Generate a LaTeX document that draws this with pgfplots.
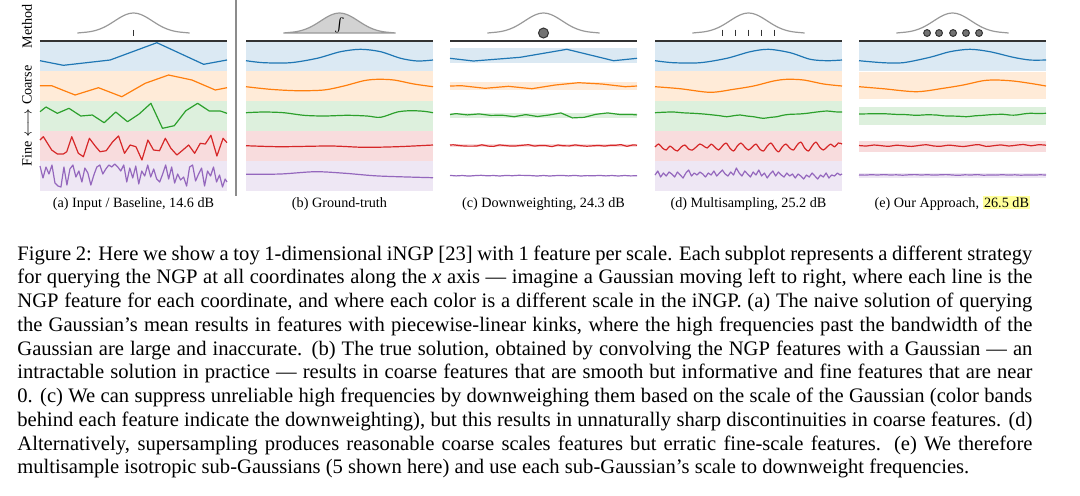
\documentclass[border=0pt]{standalone}
\usepackage{exscale}
\usepackage{fontspec}
\setmainfont{Liberation Serif}
\usepackage{pgfplots}
\pgfplotsset{compat=1.18}
\usepackage{pgfplotstable}

\definecolor{tabblue}{HTML}{1F77B4}
\definecolor{taborange}{HTML}{FF7F0E}
\definecolor{tabgreen}{HTML}{2CA02C}
\definecolor{tabred}{HTML}{D62728}
\definecolor{tabpurple}{HTML}{9467BD}
\definecolor{hl}{HTML}{FFFF99}

% gaussian sketched above each panel (base at 158, peak 178)
\pgfplotstableread{
x y
20 158
22.5 158.46
25 158.88
27.5 159.59
30 160.71
32.5 162.33
35 164.49
37.5 167.16
40 170.13
42.5 173.1
45 175.65
47.5 177.38
50 178
52.5 177.38
55 175.65
57.5 173.1
60 170.13
62.5 167.16
65 164.49
67.5 162.33
70 160.71
72.5 159.59
75 158.88
77.5 158.46
80 158
}\gausstab

\pgfplotsset{
  panel/.style={scale only axis, width=93.5pt, height=93pt,
    xmin=0, xmax=100, ymin=0, ymax=186, hide axis, clip=false,
    anchor=south west},
  feat/.style={line width=0.6pt, line join=round},
  gauss/.style={draw=black!40, line width=0.6pt},
  topline/.style={draw=black!80, line width=1pt},
}
\newcommand\subfont{\fontsize{7.1}{8.5}\selectfont}
\newcommand\capfont{\fontsize{10.3}{12}\selectfont}
\setlength{\fboxsep}{0.7pt}

\begin{document}
\begin{tikzpicture}
\path[use as bounding box] (0,0) rectangle (540pt,-247.5pt);

% left labels
\node[rotate=90, font=\subfont, inner sep=0pt] at (13.5pt,-13pt) {Method};
\node[rotate=90, font=\subfont, inner sep=0pt] at (13.5pt,-58pt) {Fine $\longleftrightarrow$ Coarse};
\draw[black!45, line width=0.8pt] (118pt,0pt) -- (118pt,-98pt);

% (a) input / baseline
\begin{axis}[panel, at={(20pt,-95.5pt)}]
\addplot[draw=none, fill=tabblue!16] coordinates {(0,120) (100,120) (100,150) (0,150)} -- cycle;
\addplot[draw=none, fill=taborange!16] coordinates {(0,90) (100,90) (100,120) (0,120)} -- cycle;
\addplot[draw=none, fill=tabgreen!16] coordinates {(0,60) (100,60) (100,90) (0,90)} -- cycle;
\addplot[draw=none, fill=tabred!16] coordinates {(0,30) (100,30) (100,60) (0,60)} -- cycle;
\addplot[draw=none, fill=tabpurple!16] coordinates {(0,0) (100,0) (100,30) (0,30)} -- cycle;
\addplot[topline] coordinates {(0,150) (100,150)};
\addplot[gauss, smooth] table {\gausstab};
\addplot[only marks, mark=|, mark size=1.6pt, mark options={draw=black!80, line width=0.6pt}] coordinates {(50,158)};
\addplot[feat, tabblue] coordinates {(0,130.3) (12.5,125.7) (37.5,131) (62.5,148.3) (87.5,126.7) (100,131)};
\addplot[feat, taborange] coordinates {(0,105.3) (6.25,105.3) (18.75,96) (31.25,103.3) (43.75,94.3) (56.25,107.7) (68.75,116) (81.25,111) (93.75,101) (100,103.3)};
\addplot[feat, tabgreen] coordinates {(0,79.3) (3.2,84) (9.3,77.7) (15.5,82.7) (21.8,75) (28,76) (34.3,68.3) (40.5,79) (46.8,69.3) (53,77) (59.3,87.7) (65.5,62.7) (71.8,65.3) (78,80.3) (84.3,87.7) (90.5,80) (96.4,80) (100,77.7)};
\addplot[feat, tabred] coordinates {(0,51) (1.8,54.3) (6.25,41) (9.3,37) (12.5,37) (14.3,39.3) (17,54.3) (20.5,37.7) (23.2,34.3) (26.4,52.7) (29.5,45) (32.1,39.3) (35.4,40.3) (38.9,49.3) (42,55) (45.2,37.7) (48.2,46) (51.3,44.3) (54.5,31) (57.7,51) (60.7,41) (63.9,40.3) (67,52.7) (70,42.7) (73.2,36) (76.4,41) (79.5,46) (82.7,37.7) (85.7,47.7) (88.4,47) (91.4,55.7) (94.6,35) (97.9,52.7) (100,48.3)};
\addplot[feat, tabpurple] coordinates {(0,25) (1.6,13) (3.2,24) (4.8,17) (6.4,26) (8,8) (9.6,5) (11.2,4) (12.8,24) (14.4,6) (16,22) (17.6,26) (19.2,14) (20.8,20) (22.4,9) (24,23) (25.6,18) (27.2,6) (28.8,16) (30.4,24) (32,26) (33.6,17) (35.2,22) (36.8,26) (38.4,24) (40,27) (41.6,24) (43.2,20) (44.8,26) (46.4,9) (48,23) (49.6,13) (51.2,25) (52.8,7) (54.4,20) (56,15) (57.6,26) (59.2,14) (60.8,22) (62.4,12) (64,9) (65.6,17) (67.2,26) (68.8,12) (70.4,24) (72,8) (73.6,17) (75.2,11) (76.8,14) (78.4,5) (80,24) (81.6,26) (83.2,10) (84.8,17) (86.4,23) (88,5) (89.6,20) (91.2,15) (92.8,24) (94.4,9) (96,16) (97.6,4) (99,12) (100,9)};
\node[font=\subfont, anchor=base] at (axis cs:50,-16.5) {(a) Input / Baseline, 14.6 dB};
\end{axis}

% (b) ground truth
\begin{axis}[panel, at={(123pt,-95.5pt)}]
\addplot[draw=none, fill=tabblue!16] coordinates {(0,120) (100,120) (100,150) (0,150)} -- cycle;
\addplot[draw=none, fill=taborange!16] coordinates {(0,90) (100,90) (100,120) (0,120)} -- cycle;
\addplot[draw=none, fill=tabgreen!16] coordinates {(0,60) (100,60) (100,90) (0,90)} -- cycle;
\addplot[draw=none, fill=tabred!16] coordinates {(0,30) (100,30) (100,60) (0,60)} -- cycle;
\addplot[draw=none, fill=tabpurple!16] coordinates {(0,0) (100,0) (100,30) (0,30)} -- cycle;
\addplot[topline] coordinates {(0,150) (100,150)};
\addplot[gauss, smooth, fill=gray!35] table {\gausstab} -- cycle;
\node[font=\fontsize{6.5}{7}\selectfont, inner sep=0pt] at (axis cs:50,165.5) {$\int$};
\addplot[feat, tabblue, smooth] coordinates {(0,130.3) (9.5,128.3) (23.8,128.3) (38,132.7) (50.5,139.3) (61.3,141.7) (72,139.3) (82.7,132.7) (91.6,130) (100,131)};
\addplot[feat, taborange, smooth] coordinates {(0,104.3) (13,101.7) (27.3,100.3) (41.6,101) (52.3,105) (63,110.3) (70.2,111.7) (79.1,111) (89.8,107) (100,104.3)};
\addplot[feat, tabgreen, smooth] coordinates {(0,78.3) (9.5,79) (20.2,78.3) (30.9,75.7) (41.6,75) (54.1,75.7) (64.8,75) (72,73.7) (80.9,79) (88,80.3) (95.2,79.7) (100,78.3)};
\addplot[feat, tabred, smooth] coordinates {(0,45.3) (18.4,44.3) (45.2,45) (63,43.7) (80.9,44.3) (100,46)};
\addplot[feat, tabpurple, smooth] coordinates {(0,16.7) (18.4,17) (37.1,19.3) (53.2,17.7) (71,15) (100,13.3)};
\node[font=\subfont, anchor=base] at (axis cs:50,-16.5) {(b) Ground-truth};
\end{axis}

% (c) downweighting
\begin{axis}[panel, at={(225pt,-95.5pt)}]
\addplot[draw=none, fill=tabblue!16] coordinates {(0,127.7) (100,127.7) (100,142.7) (0,142.7)} -- cycle;
\addplot[draw=none, fill=taborange!16] coordinates {(0,101) (100,101) (100,109.3) (0,109.3)} -- cycle;
\addplot[draw=none, fill=tabgreen!16] coordinates {(0,72.7) (100,72.7) (100,77.7) (0,77.7)} -- cycle;
\addplot[draw=none, fill=tabred!16] coordinates {(0,44.3) (100,44.3) (100,46.8) (0,46.8)} -- cycle;
\addplot[draw=none, fill=tabpurple!16] coordinates {(0,14.6) (100,14.6) (100,16.2) (0,16.2)} -- cycle;
\addplot[topline] coordinates {(0,150) (100,150)};
\addplot[gauss, smooth] table {\gausstab};
\addplot[only marks, mark=*, mark size=2.5pt, mark options={fill=black!55, draw=black!80, line width=0.5pt}] coordinates {(50,158)};
\addplot[feat, tabblue] coordinates {(0,132.7) (12.5,130) (37.5,133.7) (62.5,141.7) (87.5,130.3) (100,132.7)};
\addplot[feat, taborange] coordinates {(0,105) (6.25,105.3) (18.75,102.7) (31.25,104.7) (43.75,102.3) (56.25,106) (68.75,108.3) (81.25,107) (93.75,104.3) (100,105)};
\addplot[feat, tabgreen] coordinates {(0,76.5) (3.2,77.4) (9.3,76.1) (15.5,77.1) (21.8,75.6) (28,75.8) (34.3,74.3) (40.5,76.4) (46.8,74.5) (53,76) (59.3,78.1) (65.5,73.1) (71.8,73.7) (78,76.7) (84.3,78.1) (90.5,76.6) (96.4,76.6) (100,76.1)};
\addplot[feat, tabred] coordinates {(0,46) (1.8,46.2) (6.25,45.2) (9.3,44.9) (12.5,44.9) (14.3,45) (17,46.2) (20.5,44.9) (23.2,44.6) (26.4,46.1) (29.5,45.5) (32.1,45) (35.4,45.1) (38.9,45.8) (42,46.3) (45.2,44.9) (48.2,45.6) (51.3,45.4) (54.5,44.4) (57.7,46) (60.7,45.2) (63.9,45.1) (67,46.1) (70,45.3) (73.2,44.8) (76.4,45.2) (79.5,45.6) (82.7,44.9) (85.7,45.7) (88.4,45.7) (91.4,46.4) (94.6,44.7) (97.9,46.1) (100,45.8)};
\addplot[feat, tabpurple] coordinates {(0,15.6) (3.3,15.1) (6.6,15.5) (10,14.9) (13.3,15.4) (16.6,15.7) (20,15.2) (23.3,15.5) (26.6,15) (30,15.6) (33.3,15.3) (36.6,15.7) (40,15.6) (43.3,15.4) (46.6,15) (50,15.5) (53.3,15) (56.6,15.4) (60,15.6) (63.3,15.1) (66.6,15.6) (70,15) (73.3,15.4) (76.6,15.2) (80,15.6) (83.3,15.1) (86.6,15.5) (90,15) (93.3,15.5) (96.6,15.1) (100,15.3)};
\node[font=\subfont, anchor=base] at (axis cs:50,-16.5) {(c) Downweighting, 24.3 dB};
\end{axis}

% (d) multisampling
\begin{axis}[panel, at={(327.5pt,-95.5pt)}]
\addplot[draw=none, fill=tabblue!16] coordinates {(0,120) (100,120) (100,150) (0,150)} -- cycle;
\addplot[draw=none, fill=taborange!16] coordinates {(0,90) (100,90) (100,120) (0,120)} -- cycle;
\addplot[draw=none, fill=tabgreen!16] coordinates {(0,60) (100,60) (100,90) (0,90)} -- cycle;
\addplot[draw=none, fill=tabred!16] coordinates {(0,30) (100,30) (100,60) (0,60)} -- cycle;
\addplot[draw=none, fill=tabpurple!16] coordinates {(0,0) (100,0) (100,30) (0,30)} -- cycle;
\addplot[topline] coordinates {(0,150) (100,150)};
\addplot[gauss, smooth] table {\gausstab};
\addplot[only marks, mark=|, mark size=1.6pt, mark options={draw=black!80, line width=0.6pt}] coordinates {(36,158.3) (43,158.3) (50,158.3) (57,158.3) (64,158.3)};
\addplot[feat, tabblue, smooth] coordinates {(0,130.3) (9.8,128.3) (24.1,128.3) (38.4,132.7) (50.9,139.3) (60.7,141.7) (72.3,138.3) (83,131.7) (92,130.3) (100,131)};
\addplot[feat, taborange, smooth] coordinates {(0,104.3) (13.4,102.3) (29.5,98.7) (42,101.7) (52.7,105) (63.4,110) (70.5,111.7) (79.5,111) (90.2,107) (100,105)};
\addplot[feat, tabgreen, smooth] coordinates {(0,78.3) (5,78.8) (9.8,79) (15,78.2) (20.5,77.7) (26,77) (31.3,76) (35,75.2) (38.4,74.3) (42,75.3) (45.5,76) (49,75) (52.7,74.3) (55,73.5) (58,72.7) (61.5,73.6) (65.2,74.3) (68.5,75.8) (72.3,76.7) (77,77) (81.3,77.7) (86,78.9) (92,80) (96,79.2) (100,79)};
\addplot[feat, tabred, smooth] coordinates {(0,44) (2,47) (4,43) (6,41) (8,45) (10,42) (12,40) (14,44) (16,46) (18,42) (20,41) (22,44) (24,47) (26,45) (28,43) (30,47) (32,44) (34,41) (36,45) (38,48) (40,43) (42,40) (44,45) (46,48) (48,44) (50,41) (52,44) (54,47) (56,42) (58,40) (60,45) (62,48) (64,43) (66,39) (68,44) (70,47) (72,43) (74,41) (76,46) (78,49) (80,43) (82,40) (84,45) (86,49) (88,44) (90,41) (92,44) (94,47) (96,44) (98,48) (100,47)};
\addplot[feat, tabpurple] coordinates {(0,16) (1.5,20) (3,14) (4.5,18) (6,15) (7.5,19) (9,17) (10.5,14) (12,19) (13.5,16) (15,13) (16.5,18) (18,21) (19.5,15) (21,18) (22.5,16) (24,19) (25.5,17) (27,14) (28.5,18) (30,16) (31.5,20) (33,15) (34.5,18) (36,21) (37.5,17) (39,15) (40.5,19) (42,16) (43.5,23) (45,18) (46.5,15) (48,20) (49.5,17) (51,14) (52.5,19) (54,16) (55.5,21) (57,15) (58.5,18) (60,13) (61.5,17) (63,20) (64.5,15) (66,19) (67.5,16) (69,14) (70.5,18) (72,15) (73.5,17) (75,13) (76.5,17) (78,15) (79.5,12) (81,16) (82.5,14) (84,18) (85.5,15) (87,12) (88.5,16) (90,14) (91.5,18) (93,13) (94.5,16) (96,15) (97.5,18) (99,16) (100,17)};
\node[font=\subfont, anchor=base] at (axis cs:50,-16.5) {(d) Multisampling, 25.2 dB};
\end{axis}

% (e) our approach
\begin{axis}[panel, at={(429.5pt,-95.5pt)}]
\addplot[draw=none, fill=tabblue!16] coordinates {(0,120.3) (100,120.3) (100,149.3) (0,149.3)} -- cycle;
\addplot[draw=none, fill=taborange!16] coordinates {(0,91.7) (100,91.7) (100,119.3) (0,119.3)} -- cycle;
\addplot[draw=none, fill=tabgreen!16] coordinates {(0,66) (100,66) (100,84.3) (0,84.3)} -- cycle;
\addplot[draw=none, fill=tabred!16] coordinates {(0,39.3) (100,39.3) (100,50) (0,50)} -- cycle;
\addplot[draw=none, fill=tabpurple!16] coordinates {(0,12.7) (100,12.7) (100,18.3) (0,18.3)} -- cycle;
\addplot[topline] coordinates {(0,150) (100,150)};
\addplot[gauss, smooth] table {\gausstab};
\addplot[only marks, mark=*, mark size=1.7pt, mark options={fill=black!55, draw=black!80, line width=0.5pt}] coordinates {(36.4,158) (42.8,158) (50.3,158) (57.2,158) (64.2,158)};
\addplot[feat, tabblue, smooth] coordinates {(0,130.3) (12.9,128.3) (23.6,128.3) (37.9,133.7) (48.6,139.3) (59.3,141.7) (70,139.3) (82.5,133.7) (91.4,131) (100,131)};
\addplot[feat, taborange, smooth] coordinates {(0,104.3) (12.9,102.3) (30.7,99.3) (45,102.7) (55.7,106) (66.4,110.3) (73.6,111) (82.5,110) (91.4,107.7) (100,105)};
\addplot[feat, tabgreen, smooth] coordinates {(0,77) (6,77.2) (12.9,77.3) (20,76.6) (25,76.4) (30.7,75.7) (36,76.2) (41.4,76) (45,75.2) (48.6,75) (53,74.8) (57.5,74.3) (62,75.2) (66.4,75.7) (71,76.4) (77.1,76.7) (81,75.9) (84.3,76) (88,77.1) (91.4,77.7) (96,77.5) (100,77.7)};
\addplot[feat, tabred, smooth] coordinates {(0,45.5) (4,45) (8,46) (12,45.3) (16,44.7) (20,45.8) (24,45.2) (28,44.6) (32,45.5) (36,46.3) (40,45) (44,44.8) (48,45.9) (52,45.1) (56,44.5) (60,45.6) (64,46.4) (68,44.6) (72,45.3) (76,46.1) (80,45) (84,45.8) (88,46.5) (92,45.2) (96,46.3) (100,45.8)};
\addplot[feat, tabpurple, smooth] coordinates {(0,16.1) (3.3,15.9) (6.6,16.3) (10,16) (13.3,16.4) (16.6,16) (20,16.2) (23.3,15.8) (26.6,16.2) (30,16.4) (33.3,16) (36.6,16.3) (40,15.9) (43.3,16.2) (46.6,16.4) (50,16) (53.3,15.7) (56.6,16.2) (60,16) (63.3,16.4) (66.6,15.8) (70,16.1) (73.3,15.9) (76.6,16.3) (80,15.9) (83.3,16.2) (86.6,15.8) (90,16.1) (93.3,15.9) (96.6,16.2) (100,16)};
\node[font=\subfont, anchor=base] at (axis cs:50,-16.5) {(e) Our Approach, \colorbox{hl}{26.5 dB}};
\end{axis}

% caption
\node[anchor=base west, inner sep=0pt, font=\capfont] at (8.5pt,-130pt) {\makebox[507.5pt][s]{Figure 2: Here we show a toy 1-dimensional iNGP [23] with 1 feature per scale. Each subplot represents a different strategy}};
\node[anchor=base west, inner sep=0pt, font=\capfont] at (8.5pt,-141.875pt) {\makebox[507.5pt][s]{for querying the NGP at all coordinates along the \textit{x} axis --- imagine a Gaussian moving left to right, where each line is the}};
\node[anchor=base west, inner sep=0pt, font=\capfont] at (8.5pt,-153.75pt) {\makebox[507.5pt][s]{NGP feature for each coordinate, and where each color is a different scale in the iNGP. (a) The naive solution of querying}};
\node[anchor=base west, inner sep=0pt, font=\capfont] at (8.5pt,-165.625pt) {\makebox[507.5pt][s]{the Gaussian's mean results in features with piecewise-linear kinks, where the high frequencies past the bandwidth of the}};
\node[anchor=base west, inner sep=0pt, font=\capfont] at (8.5pt,-177.5pt) {\makebox[507.5pt][s]{Gaussian are large and inaccurate. (b) The true solution, obtained by convolving the NGP features with a Gaussian --- an}};
\node[anchor=base west, inner sep=0pt, font=\capfont] at (8.5pt,-189.375pt) {\makebox[507.5pt][s]{intractable solution in practice --- results in coarse features that are smooth but informative and fine features that are near}};
\node[anchor=base west, inner sep=0pt, font=\capfont] at (8.5pt,-201.25pt) {\makebox[507.5pt][s]{0. (c) We can suppress unreliable high frequencies by downweighing them based on the scale of the Gaussian (color bands}};
\node[anchor=base west, inner sep=0pt, font=\capfont] at (8.5pt,-213.125pt) {\makebox[507.5pt][s]{behind each feature indicate the downweighting), but this results in unnaturally sharp discontinuities in coarse features. (d)}};
\node[anchor=base west, inner sep=0pt, font=\capfont] at (8.5pt,-225pt) {\makebox[507.5pt][s]{Alternatively, supersampling produces reasonable coarse scales features but erratic fine-scale features. (e) We therefore}};
\node[anchor=base west, inner sep=0pt, font=\capfont] at (8.5pt,-236.875pt) {multisample isotropic sub-Gaussians (5 shown here) and use each sub-Gaussian's scale to downweight frequencies.};
\end{tikzpicture}
\end{document}
